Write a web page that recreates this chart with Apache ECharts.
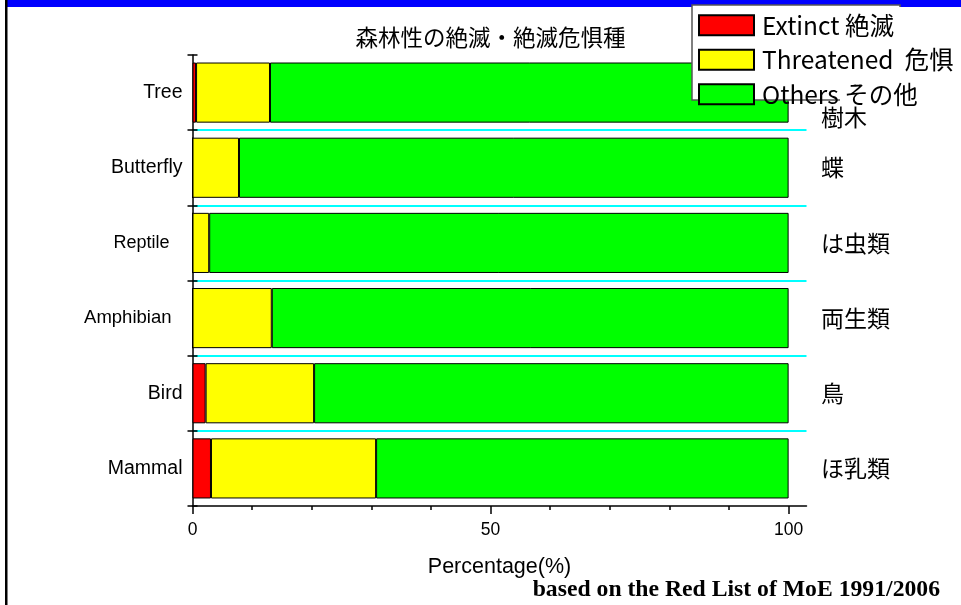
<!DOCTYPE html>
<html>
<head>
<meta charset="utf-8">
<script src="https://cdn.jsdelivr.net/npm/echarts@6/dist/echarts.min.js"></script>
<style>
html,body{margin:0;padding:0;background:#fff;}
#chart{width:961px;height:605px;}
</style>
</head>
<body>
<div id="chart"></div>
<script>
const categories = ['Tree', 'Butterfly', 'Reptile', 'Amphibian', 'Bird', 'Mammal'];
const jpLabels = ['樹木', '蝶', 'は虫類', '両生類', '鳥', 'ほ乳類'];
const extinct = [0.6, 0, 0, 0, 2.2, 3.1];
const threatened = [12.4, 7.8, 2.8, 13.3, 18.2, 27.7];
const others = [87.0, 92.2, 97.2, 86.7, 79.6, 69.2];
const seriesNames = ['Extinct 絶滅', 'Threatened  危惧', 'Others その他'];
const xLabelTicks = [0, 50, 100];
const xMinorTicks = [0, 10, 20, 30, 40, 50, 60, 70, 80, 90, 100];
const titleText = '森林性の絶滅・絶滅危惧種';
const xName = 'Percentage(%)';
const sourceText = 'based on the Red List of MoE 1991/2006';

const JP = '"Noto Sans CJK JP", sans-serif';
const SANS = '"Liberation Sans", Arial, sans-serif';
const SERIF = '"Liberation Serif", "Times New Roman", serif';

const chart = echarts.init(document.getElementById('chart'), null, {renderer: 'canvas'});
const colors = ['#FF0000', '#FFFF00', '#00FF00'];
const values = [extinct, threatened, others];

const grid = {left: 192.5, top: 55, width: 614, height: 451, containLabel: false};

const option = {
  animation: false,
  backgroundColor: '#ffffff',
  title: [
    {text: titleText, left: 490.5, top: 26, textAlign: 'center', padding: 0,
     textStyle: {fontFamily: JP, fontSize: 22.5, fontWeight: 'normal', color: '#000'}},
    {text: sourceText, left: 940, top: 578, textAlign: 'right', padding: 0,
     textStyle: {fontFamily: SERIF, fontSize: 23.7, fontWeight: 'bold', color: '#000'}}
  ],
  legend: {
    orient: 'vertical', left: 698, top: 13, padding: 0,
    itemWidth: 55, itemHeight: 20, itemGap: 10,
    icon: 'rect',
    data: seriesNames,
    textStyle: {fontFamily: JP, fontSize: 24.5, color: '#000', lineHeight: 20, padding: [0, 0, 0, 3]},
    z: 5
  },
  grid: grid,
  xAxis: [
    {
      type: 'value', min: 0, max: 103, interval: 10,
      position: 'bottom',
      name: xName, nameLocation: 'middle', nameGap: 50,
      nameTextStyle: {fontFamily: SANS, fontSize: 21.5, color: '#000'},
      axisLine: {show: true, lineStyle: {color: '#000', width: 1.5}},
      axisTick: {show: true, length: 4, customValues: xMinorTicks, lineStyle: {color: '#000', width: 1.5}},
      axisLabel: {show: true, customValues: xLabelTicks, margin: 15, fontFamily: SANS, fontSize: 17.5, color: '#000'},
      splitLine: {show: false}
    },
    {
      type: 'value', min: 0, max: 103, interval: 10,
      position: 'bottom',
      axisLine: {show: false},
      axisTick: {show: true, length: 8, customValues: xLabelTicks, lineStyle: {color: '#000', width: 1.5}},
      axisLabel: {show: false},
      splitLine: {show: false}
    }
  ],
  yAxis: [
    {
      type: 'category', data: categories, inverse: true, position: 'left',
      axisLine: {show: true, lineStyle: {color: '#000', width: 1.5}},
      axisTick: {show: true, length: 5, inside: false, lineStyle: {color: '#000', width: 1.5}},
      axisLabel: {
        margin: 10, fontFamily: SANS, fontSize: 19.5, color: '#000',
        formatter: function (v) {
          if (v === 'Reptile') return '{r|' + v + '}';
          if (v === 'Amphibian') return '{a|' + v + '}';
          return v;
        },
        rich: {
          r: {fontFamily: SANS, fontSize: 18, color: '#000', padding: [0, 13, 0, 0]},
          a: {fontFamily: SANS, fontSize: 18.5, color: '#000', padding: [0, 11, 0, 0]}
        }
      },
      splitLine: {show: true, showMinLine: false, showMaxLine: false, lineStyle: {color: '#00FFFF', width: 2}}
    },
    {
      type: 'category', data: categories, inverse: true, position: 'left',
      axisLine: {show: false},
      axisTick: {show: true, length: 5, inside: true, lineStyle: {color: '#000', width: 1.5}},
      axisLabel: {show: false},
      splitLine: {show: false}
    },
    {
      type: 'category', data: jpLabels, inverse: true, position: 'right',
      axisLine: {show: false},
      axisTick: {show: false},
      axisLabel: {
        margin: 14.5, fontFamily: JP, fontSize: 23, color: '#000', align: 'left',
        formatter: function (v) {
          if (v === '樹木') return '{d|' + v + '}';
          return v;
        },
        rich: {
          d: {fontFamily: JP, fontSize: 23, color: '#000', padding: [50, 0, 0, 0]}
        }
      },
      splitLine: {show: false}
    }
  ],
  graphic: {
    elements: [
      {type: 'rect', shape: {x: 7, y: 0, width: 954, height: 7}, style: {fill: '#0000FF'}, z: 1, silent: true},
      {type: 'rect', shape: {x: 5, y: 0, width: 2.5, height: 605}, style: {fill: '#000'}, z: 1, silent: true},
      {type: 'rect', shape: {x: 692, y: 5, width: 208, height: 95}, style: {fill: '#fff'}, z: 3, silent: true},
      {type: 'polyline', shape: {points: [[840, 100], [692, 100], [692, 5], [900, 5], [900, 7]]},
       style: {stroke: '#555', lineWidth: 1.5, fill: null}, z: 3, silent: true}
    ]
  },
  series: seriesNames.map(function (name, i) {
    return {
      name: name, type: 'bar', stack: 'total',
      xAxisIndex: 0, yAxisIndex: 0,
      barCategoryGap: '20%',
      itemStyle: {color: colors[i], borderColor: '#000', borderWidth: 1},
      emphasis: {disabled: true},
      data: values[i]
    };
  })
};
chart.setOption(option);
</script>
</body>
</html>
